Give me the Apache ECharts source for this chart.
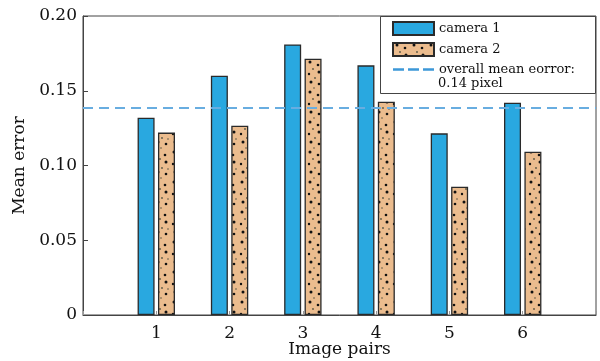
<!DOCTYPE html>
<html>
<head>
<meta charset="utf-8">
<script src="https://cdn.jsdelivr.net/npm/echarts@6/dist/echarts.min.js"></script>
<style>html,body{margin:0;padding:0;background:#fff}#c{width:600px;height:361px}</style>
</head>
<body>
<div id="c"></div>
<script>
var pairs = [1, 2, 3, 4, 5, 6];
var camera1 = [0.132, 0.160, 0.181, 0.167, 0.1215, 0.142];
var camera2 = [0.122, 0.1266, 0.1714, 0.1427, 0.0858, 0.1092];
var overallMean = 0.1385;
var yTicks = ['0', '0.05', '0.10', '0.15', '0.20'];

// dotted fill pattern for camera 2
var pc = document.createElement('canvas');
pc.width = 17; pc.height = 30;
var g = pc.getContext('2d');
g.fillStyle = '#ebbc8e'; g.fillRect(0, 0, 17, 30);
var dots = [[4,2,1.5,'#111'],[12,5,1.3,'#111'],[7,9,0.9,'#554'],[13,12,1.5,'#111'],[3,14,1.2,'#111'],[9,18,0.9,'#554'],[5,22,1.5,'#111'],[13,24,1.3,'#111'],[8,28,0.8,'#554'],[15,19,0.8,'#554']];
dots.forEach(function(d){ g.fillStyle = d[3]; g.beginPath(); g.arc(d[0], d[1], d[2], 0, Math.PI*2); g.fill(); });

var FONT = 'DejaVu Serif';
var dashIcon = 'path://M0,0M41,13M0,5.3H11V7.7H0ZM15,5.3H26V7.7H15ZM30,5.3H41V7.7H30Z';
var chart = echarts.init(document.getElementById('c'), null, {renderer: 'canvas'});
chart.setOption({
  animation: false,
  textStyle: {fontFamily: FONT, color: '#111'},
  grid: {left: 83, right: 4, top: 16, bottom: 46, show: true, borderColor: '#444', borderWidth: 1,
         containLabel: false, outerBoundsMode: 'none'},
  xAxis: {
    type: 'value', min: 0, max: pairs.length + 1, interval: 1,
    name: 'Image pairs', nameLocation: 'middle', nameGap: 26, nameMoveOverlap: false,
    nameTextStyle: {fontFamily: FONT, fontSize: 17, color: '#111'},
    axisLine: {show: true, lineStyle: {color: '#444'}},
    axisTick: {show: true, inside: true, length: 4, lineStyle: {color: '#999'}},
    splitLine: {show: false},
    axisLabel: {fontFamily: FONT, fontSize: 17, color: '#111', margin: 10,
      formatter: function(v){ return pairs.indexOf(v) >= 0 ? String(v) : ''; }}
  },
  yAxis: {
    type: 'value', min: 0, max: 0.2, interval: 0.05,
    name: 'Mean error', nameLocation: 'middle', nameGap: 55, nameMoveOverlap: false,
    nameTextStyle: {fontFamily: FONT, fontSize: 17, color: '#111'},
    axisLine: {show: true, lineStyle: {color: '#444'}},
    axisTick: {show: true, inside: true, length: 5, lineStyle: {color: '#444'}},
    splitLine: {show: false},
    axisLabel: {fontFamily: FONT, fontSize: 17, color: '#111', margin: 6,
      formatter: function(v){ return yTicks[Math.round(v / 0.05)]; }}
  },
  legend: {
    orient: 'vertical', left: 392, top: 21, padding: 0,
    itemWidth: 41, itemHeight: 13, itemGap: 6,
    textStyle: {fontFamily: FONT, fontSize: 13, color: '#111'},
    data: [{name: 'camera 1', icon: 'rect'}, {name: 'camera 2', icon: 'rect'},
           {name: 'overall mean eorror:', icon: dashIcon, itemStyle: {color: '#3d98d8', borderWidth: 0}}]
  },
  graphic: [
    {type: 'rect', shape: {x: 380.5, y: 16.5, width: 215, height: 77}, style: {fill: '#fff', stroke: '#444', lineWidth: 1}, z: -1, silent: true},
    {type: 'text', left: 438, top: 77, style: {text: '0.14 pixel', font: '13px "DejaVu Serif"', fill: '#111'}, z: 10}
  ],
  series: [
    {name: 'camera 1', type: 'bar', barWidth: 17, barGap: '20%',
     itemStyle: {color: '#29a8e0', borderColor: '#2a2a2a', borderWidth: 1.3},
     data: pairs.map(function(p, i){ return [p, camera1[i]]; })},
    {name: 'camera 2', type: 'bar', barWidth: 17, barGap: '20%',
     itemStyle: {color: {image: pc, repeat: 'repeat'}, borderColor: '#2a2a2a', borderWidth: 1.3},
     data: pairs.map(function(p, i){ return [p, camera2[i]]; })},
    {name: 'overall mean eorror:', type: 'line', symbol: 'none', z: 5,
     lineStyle: {color: '#68ade0', width: 2, type: [10, 6]},
     itemStyle: {color: '#68ade0'},
     data: [[0, overallMean], [pairs.length + 1, overallMean]]}
  ]
});
</script>
</body>
</html>
